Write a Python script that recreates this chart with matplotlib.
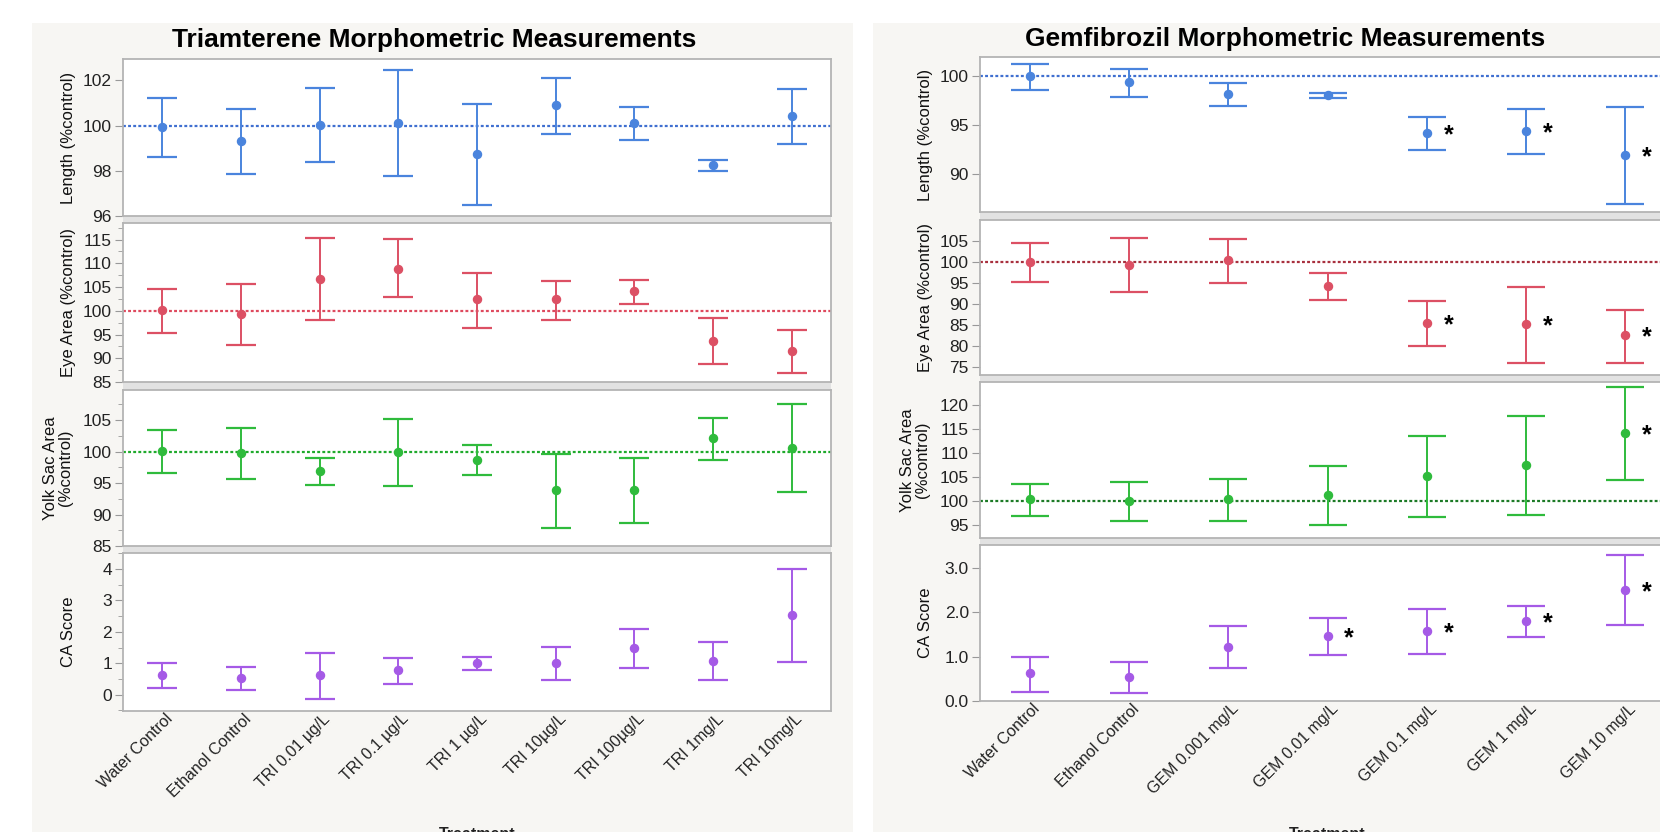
import numpy as np
import matplotlib
matplotlib.use("Agg")
import matplotlib.pyplot as plt
from matplotlib.patches import Rectangle
from matplotlib.ticker import MultipleLocator, FormatStrFormatter
from matplotlib.transforms import ScaledTranslation

plt.rcParams['font.family'] = ['Liberation Sans', 'DejaVu Sans']

###data
tri_labels = ['Water Control', 'Ethanol Control', 'TRI 0.01 µg/L', 'TRI 0.1 µg/L', 'TRI 1 µg/L',
              'TRI 10µg/L', 'TRI 100µg/L', 'TRI 1mg/L', 'TRI 10mg/L']
gem_labels = ['Water Control', 'Ethanol Control', 'GEM 0.001 mg/L', 'GEM 0.01 mg/L',
              'GEM 0.1 mg/L', 'GEM 1 mg/L', 'GEM 10 mg/L']

#triamterene
tri_len_mean = [99.96, 99.32, 100.03, 100.13, 98.73, 100.90, 100.12, 98.25, 100.43]
tri_len_lo = [98.62, 97.88, 98.37, 97.78, 96.47, 99.62, 99.35, 97.97, 99.17]
tri_len_hi = [101.22, 100.74, 101.66, 102.46, 100.94, 102.12, 100.84, 98.49, 101.63]

tri_eye_mean = [100.07, 99.27, 106.6, 108.9, 102.40, 102.48, 104.1, 93.7, 91.5]
tri_eye_lo = [95.3, 92.7, 98.0, 103.0, 96.3, 98.1, 101.5, 88.7, 86.9]
tri_eye_hi = [104.6, 105.7, 115.3, 115.1, 107.9, 106.3, 106.4, 98.5, 96.0]

tri_yolk_mean = [100.16, 99.84, 97.0, 100.0, 98.68, 93.84, 93.95, 102.1, 100.63]
tri_yolk_lo = [96.63, 95.68, 94.68, 94.58, 96.21, 87.84, 88.63, 98.63, 93.53]
tri_yolk_hi = [103.47, 103.79, 99.05, 105.16, 101.0, 99.68, 99.05, 105.37, 107.53]

tri_ca_mean = [0.63, 0.54, 0.62, 0.77, 1.02, 1.02, 1.49, 1.08, 2.55]
tri_ca_lo = [0.20, 0.16, -0.13, 0.34, 0.80, 0.48, 0.86, 0.46, 1.05]
tri_ca_hi = [1.01, 0.88, 1.32, 1.16, 1.20, 1.52, 2.08, 1.68, 4.0]

#gemfibrozil
gem_len_mean = [100.0, 99.35, 98.20, 98.03, 94.22, 94.42, 91.94]
gem_len_lo = [98.61, 97.86, 96.97, 97.72, 92.48, 92.07, 86.94]
gem_len_hi = [101.22, 100.71, 99.29, 98.23, 95.82, 96.63, 96.80]
gem_len_sig = [4, 5, 6]

gem_eye_mean = [100.0, 99.21, 100.32, 94.21, 85.40, 85.16, 82.46]
gem_eye_lo = [95.24, 92.70, 95.0, 90.79, 79.84, 75.95, 75.95]
gem_eye_hi = [104.44, 105.56, 105.32, 97.30, 90.56, 93.97, 88.49]
gem_eye_sig = [4, 5, 6]

gem_yolk_mean = [100.35, 100.0, 100.35, 101.25, 105.28, 107.5, 114.24]
gem_yolk_lo = [96.81, 95.83, 95.90, 94.93, 96.74, 97.15, 104.44]
gem_yolk_hi = [103.61, 103.89, 104.58, 107.29, 113.61, 117.64, 123.75]
gem_yolk_sig = [6]

gem_ca_mean = [0.62, 0.53, 1.22, 1.47, 1.58, 1.80, 2.50]
gem_ca_lo = [0.20, 0.17, 0.74, 1.04, 1.05, 1.44, 1.71]
gem_ca_hi = [1.0, 0.88, 1.68, 1.86, 2.08, 2.13, 3.28]
gem_ca_sig = [3, 4, 5, 6]

###colours
BLUE = '#4a84dd'
RED = '#dc5064'
GREEN = '#2fbb3c'
PURPLE = '#a55ae6'

W, H = 1660, 832
fig = plt.figure(figsize=(W/100, H/100), dpi=100)
fig.patch.set_facecolor('white')

def px_rect(x0, y0, x1, y1):
    return [x0/W, 1 - y1/H, (x1-x0)/W, (y1-y0)/H]

def add_box(x0, y0, x1, y1, color):
    fig.patches.append(Rectangle((x0/W, 1 - y1/H), (x1-x0)/W, (y1-y0)/H,
                                 transform=fig.transFigure, color=color, zorder=-5, lw=0))

#gray report panels
add_box(32, 23, 853, H, '#f7f6f3')
add_box(873, 23, W, H, '#f7f6f3')

def panel(rect, labels, mean, lo, hi, color, ylim, major, minor, capsize, ref=None, sig=(), fmt=None, xlabels=False):
    ax = fig.add_axes(rect)
    ax.set_zorder(2)
    ax.set_facecolor('white')
    x = np.arange(len(labels))
    mean = np.array(mean); lo = np.array(lo); hi = np.array(hi)
    if ref is not None:
        ax.axhline(100, color=ref, lw=1.6, ls=(0, (1.3, 1.0)), zorder=1)
    ax.errorbar(x, mean, yerr=[mean-lo, hi-mean], fmt='o', color=color, ms=5.8,
                ecolor=color, elinewidth=1.4, capsize=capsize, capthick=1.6, zorder=3)
    for i in sig:
        ax.text(x[i]+0.17, mean[i], '*', fontsize=18, fontweight='bold', ha='left',
                va='center_baseline', color='black')
    ax.set_xlim(-0.5, len(labels)-0.5)
    ax.set_ylim(*ylim)
    ax.yaxis.set_major_locator(MultipleLocator(major))
    if minor:
        ax.yaxis.set_minor_locator(MultipleLocator(minor))
    if fmt:
        ax.yaxis.set_major_formatter(FormatStrFormatter(fmt))
    ax.set_xticks(x)
    if xlabels:
        ax.set_xticklabels(labels, rotation=45, ha='right', va='center',
                           rotation_mode='anchor', fontsize=11.5, color='#222222')
        ax.tick_params(axis='x', length=0, pad=4)
        for t in ax.get_xticklabels():
            t.set_transform(t.get_transform() + ScaledTranslation(0.08, 0, fig.dpi_scale_trans))
    else:
        ax.set_xticklabels([])
        ax.tick_params(axis='x', length=0)
    ax.tick_params(axis='y', which='major', length=6, color='#999999', labelsize=12.5,
                   labelcolor='#222222', pad=2)
    ax.tick_params(axis='y', which='minor', length=3.5, color='#999999')
    for s in ax.spines.values():
        s.set_color('#b4b4b4')
        s.set_linewidth(1.3)
    return ax

def ylab(text, xc, y0, y1):
    fig.text(xc/W, 1 - (y0+y1)/2/H, text, rotation=90, ha='center', va='center',
             fontsize=12, color='#111111', linespacing=1.0)

###left panel: triamterene
lx0, lx1 = 123, 831
lrows = [(59, 216), (223, 382), (390, 546), (553, 711)]
for a, b in zip(lrows[:-1], lrows[1:]):
    add_box(lx0, a[1], lx1, b[0], '#e2e2e2')
panel(px_rect(lx0, lrows[0][0], lx1, lrows[0][1]), tri_labels, tri_len_mean, tri_len_lo, tri_len_hi,
      BLUE, (96, 102.95), 2, None, 11, ref='#3f6fd0')
panel(px_rect(lx0, lrows[1][0], lx1, lrows[1][1]), tri_labels, tri_eye_mean, tri_eye_lo, tri_eye_hi,
      RED, (85, 118.5), 5, 2.5, 11, ref='#de4a5e')
panel(px_rect(lx0, lrows[2][0], lx1, lrows[2][1]), tri_labels, tri_yolk_mean, tri_yolk_lo, tri_yolk_hi,
      GREEN, (85, 109.8), 5, 2.5, 11, ref='#1faa2c')
panel(px_rect(lx0, lrows[3][0], lx1, lrows[3][1]), tri_labels, tri_ca_mean, tri_ca_lo, tri_ca_hi,
      PURPLE, (-0.52, 4.51), 1, 0.5, 11, xlabels=True)
ylab('Length (%control)', 68, *lrows[0])
ylab('Eye Area (%control)', 68, *lrows[1])
ylab('Yolk Sac Area\n(%control)', 58, *lrows[2])
ylab('CA Score', 68, *lrows[3])
fig.text(434/W, 1 - 40/H, 'Triamterene Morphometric Measurements', ha='center', va='center',
         fontsize=19, fontweight='bold', color='black')
fig.text((lx0+lx1)/2/W, 1 - 827/H, 'Treatment', ha='center', va='top', fontsize=11.5,
         fontweight='bold', color='#222222')

###right panel: gemfibrozil
rx0, rx1 = 980, 1675
rrows = [(57, 212), (220, 375), (382, 538), (545, 701)]
for a, b in zip(rrows[:-1], rrows[1:]):
    add_box(rx0, a[1], W, b[0], '#e2e2e2')
panel(px_rect(rx0, rrows[0][0], rx1, rrows[0][1]), gem_labels, gem_len_mean, gem_len_lo, gem_len_hi,
      BLUE, (86.1, 101.94), 5, None, 13.5, ref='#3f6fd0', sig=gem_len_sig)
panel(px_rect(rx0, rrows[1][0], rx1, rrows[1][1]), gem_labels, gem_eye_mean, gem_eye_lo, gem_eye_hi,
      RED, (73.0, 109.9), 5, None, 13.5, ref='#a8303e', sig=gem_eye_sig)
panel(px_rect(rx0, rrows[2][0], rx1, rrows[2][1]), gem_labels, gem_yolk_mean, gem_yolk_lo, gem_yolk_hi,
      GREEN, (92.3, 124.8), 5, None, 13.5, ref='#1c7a26', sig=gem_yolk_sig)
panel(px_rect(rx0, rrows[3][0], rx1, rrows[3][1]), gem_labels, gem_ca_mean, gem_ca_lo, gem_ca_hi,
      PURPLE, (0, 3.51), 1, None, 13.5, sig=gem_ca_sig, fmt='%.1f', xlabels=True)
ylab('Length (%control)', 925, *rrows[0])
ylab('Eye Area (%control)', 925, *rrows[1])
ylab('Yolk Sac Area\n(%control)', 915, *rrows[2])
ylab('CA Score', 925, *rrows[3])
fig.text(1285/W, 1 - 39/H, 'Gemfibrozil Morphometric Measurements', ha='center', va='center',
         fontsize=19, fontweight='bold', color='black')
fig.text((rx0+rx1)/2/W, 1 - 827/H, 'Treatment', ha='center', va='top', fontsize=11.5,
         fontweight='bold', color='#222222')

fig.savefig('out.png', dpi=100)
